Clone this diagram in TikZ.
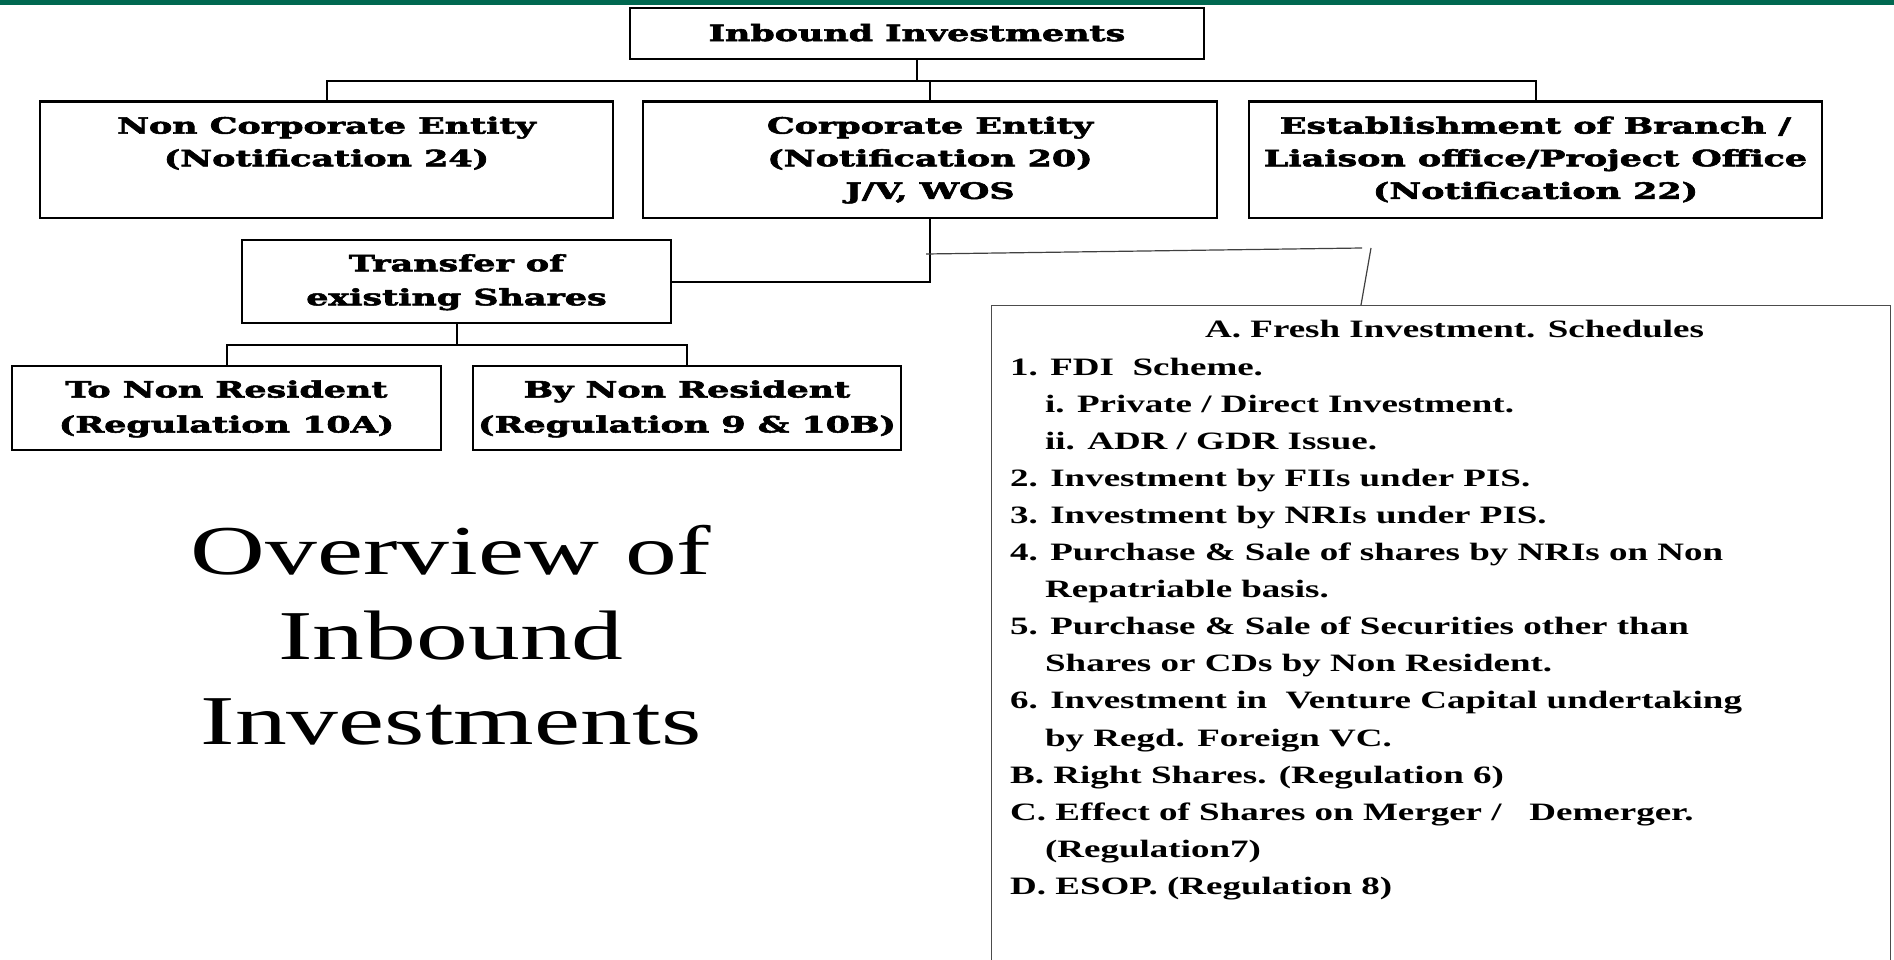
\documentclass[tikz,border=0pt]{standalone}
\usepackage{fontspec}
\usepackage{graphicx}
\newfontfamily\slabfont{DejaVu Serif}[BoldFeatures={FakeBold=2.2}]
\newfontfamily\timesfont{Liberation Serif}
\definecolor{bargreen}{RGB}{0,104,80}
\newcommand{\wide}[1]{\scalebox{1.48}[1]{#1}}
\newcommand{\widesl}[1]{\scalebox{1.55}[1]{#1}}
\newcommand{\boxtext}[3]{\fontsize{#1}{#2}\selectfont\widesl{\begin{tabular}{@{}c@{}}#3\end{tabular}}}
\newcommand{\bigtext}[3]{\fontsize{#1}{#2}\selectfont\wide{\begin{tabular}{@{}c@{}}#3\end{tabular}}}
\begin{document}
\begin{tikzpicture}[x=1pt,y=-1pt,
  box/.style={draw, line width=2.2pt, rectangle, inner sep=0pt, font=\slabfont\bfseries},
  conn/.style={line width=2pt},
  callout/.style={line width=1.2pt, draw=black!75},
  schedbox/.style={draw=black!70, line width=1.3pt, rectangle, inner sep=0pt},
  listtext/.style={font=\timesfont\bfseries, inner sep=0pt, align=left}
]
\useasboundingbox (0,0) rectangle (1894,960);
\clip (0,0) rectangle (1894,960);
\fill[white] (0,0) rectangle (1894,960);
\fill[bargreen] (0,0) rectangle (1894,5);

% top
\node[box, minimum width=574, minimum height=51, text depth=9pt] (top) at (917,33.5)
  {\boxtext{22.5}{32.6}{Inbound Investments}};

% row 2
\node[box, minimum width=573, minimum height=116.5] (nc) at (326.5,159.75)
  {\boxtext{22.5}{32.6}{Non Corporate Entity\\(Notification 24)\\\mbox{}}};
\node[box, minimum width=574, minimum height=116.5] (corp) at (930,159.75)
  {\boxtext{22.5}{32.6}{Corporate Entity\\(Notification 20)\\J/V, WOS}};
\node[box, minimum width=573, minimum height=116.5] (estab) at (1535.5,159.75)
  {\boxtext{22.5}{32.6}{Establishment of Branch /\\Liaison office/Project Office\\(Notification 22)}};

% transfer
\node[box, minimum width=429, minimum height=83] (transfer) at (456.5,281.5)
  {\boxtext{22.5}{34}{Transfer of\\existing Shares}};
\node[box, minimum width=429, minimum height=84] (tonr) at (226.5,408)
  {\boxtext{22.5}{35}{To Non Resident\\(Regulation 10A)}};
\node[box, minimum width=428, minimum height=84] (bynr) at (687,408)
  {\boxtext{22.5}{35}{By Non Resident\\(Regulation 9 \& 10B)}};

% connectors
\coordinate (j1) at (917,81);
\draw[conn] (top.south) -- (j1);
\draw[conn] (j1) -| (nc.north);
\draw[conn] (j1) -| (estab.north);
\draw[conn] (corp.north) -- (corp.north |- j1);
\draw[conn] (corp.south) |- (transfer.east);
\coordinate (j2) at (456.5,345);
\draw[conn] (transfer.south) -- (j2);
\draw[conn] (j2) -| (tonr.north);
\draw[conn] (j2) -| (bynr.north);

% schedule box
\node[schedbox, anchor=north west, minimum width=899, minimum height=720] (sched) at (991,305) {};
\coordinate (c1) at (926,254);
\coordinate (c2) at (1362,248);
\coordinate (c3) at (1371,248);
\coordinate (c4) at (1361,305);
\draw[callout] (c1) -- (c2);
\draw[callout] (c3) -- (c4);

\node[listtext, anchor=base west] (schedtitle) at (1205,337.8)
  {\fontsize{25}{37.1}\selectfont\wide{A. Fresh Investment. Schedules}};
\node[listtext, anchor=north west] (schedlist) at (1010,348.9)
  {\fontsize{25}{37.1}\selectfont\wide{\begin{tabular}{@{}l@{}}
1. FDI\ \ Scheme.\\
\hspace*{23.6pt}i. Private / Direct Investment.\\
\hspace*{23.6pt}ii. ADR / GDR Issue.\\
2. Investment by FIIs under PIS.\\
3. Investment by NRIs under PIS.\\
4. Purchase \& Sale of shares by NRIs on Non\\
\hspace*{23.6pt}Repatriable basis.\\
5. Purchase \& Sale of Securities other than\\
\hspace*{23.6pt}Shares or CDs by Non Resident.\\
6. Investment in\ \ Venture Capital undertaking\\
\hspace*{23.6pt}by Regd. Foreign VC.\\
B. Right Shares. (Regulation 6)\\
C. Effect of Shares on Merger /\ \ \ Demerger.\\
\hspace*{23.6pt}(Regulation7)\\
D. ESOP. (Regulation 8)
\end{tabular}}};

% overview
\node[font=\timesfont, inner sep=0pt] (overview) at (451,642)
  {\bigtext{70}{85}{Overview of\\Inbound\\Investments}};
\end{tikzpicture}
\end{document}
